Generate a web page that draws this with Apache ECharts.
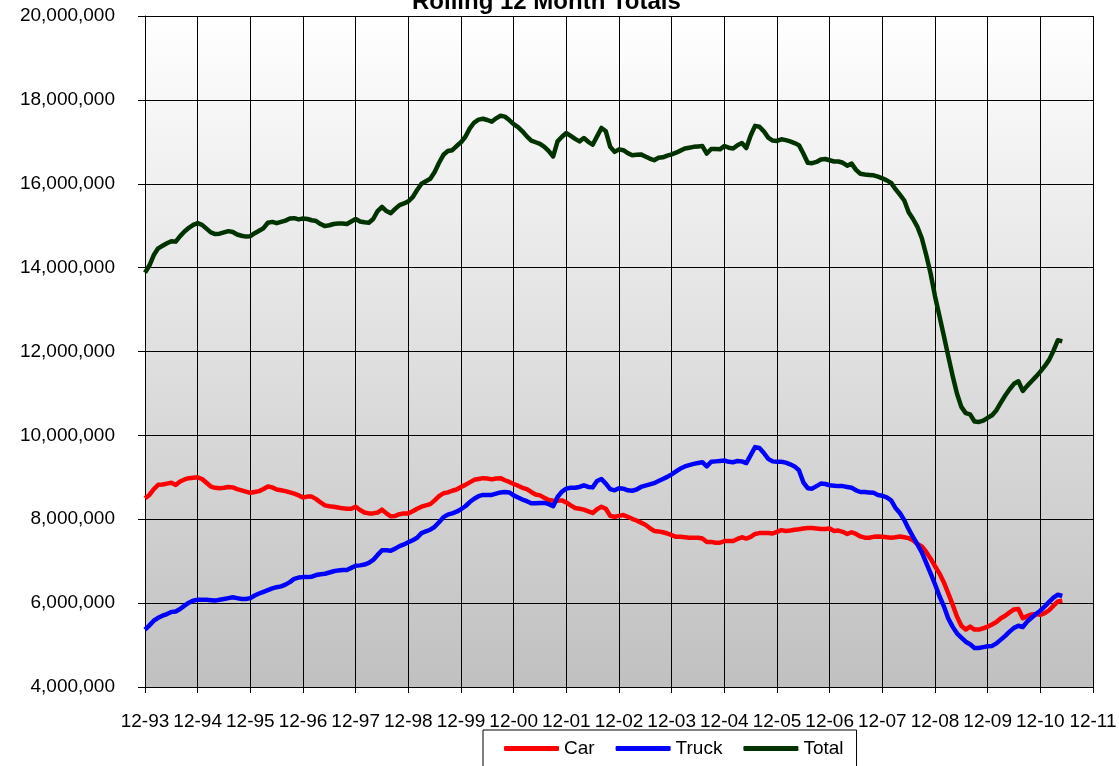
<!DOCTYPE html>
<html>
<head>
<meta charset="utf-8">
<script src="https://cdn.jsdelivr.net/npm/echarts/dist/echarts.min.js"></script>
<style>
    html, body { margin: 0; padding: 0; background: #ffffff; }
    #chart { width: 1119px; height: 766px; }
</style>
</head>
<body>
<div id="chart"></div>
<script>
    // year-end tick labels (one every 12 months)
    var yearLabels = ['12-93', '12-94', '12-95', '12-96', '12-97', '12-98', '12-99', '12-00', '12-01',
        '12-02', '12-03', '12-04', '12-05', '12-06', '12-07', '12-08', '12-09', '12-10', '12-11'];

    // rolling 12 month totals, millions of units, monthly from 12-93
    var car = [
        8.50, 8.58, 8.72, 8.82, 8.83, 8.85, 8.87, 8.82, 8.90, 8.95,
        8.98, 8.99, 9.00, 8.96, 8.87, 8.78, 8.75, 8.74, 8.75, 8.77,
        8.76, 8.72, 8.69, 8.66, 8.63, 8.65, 8.67, 8.72, 8.78, 8.76,
        8.71, 8.69, 8.67, 8.64, 8.61, 8.57, 8.52, 8.54, 8.54, 8.48,
        8.40, 8.33, 8.31, 8.30, 8.28, 8.26, 8.25, 8.25, 8.30, 8.22,
        8.16, 8.14, 8.14, 8.16, 8.23, 8.14, 8.07, 8.08, 8.12, 8.14,
        8.14, 8.19, 8.25, 8.30, 8.33, 8.36, 8.45, 8.55, 8.62, 8.64,
        8.68, 8.71, 8.77, 8.82, 8.88, 8.94, 8.96, 8.98, 8.97, 8.95,
        8.97, 8.98, 8.93, 8.89, 8.84, 8.80, 8.75, 8.72, 8.65, 8.59,
        8.57, 8.51, 8.46, 8.44, 8.44, 8.45, 8.40, 8.33, 8.27, 8.25,
        8.23, 8.19, 8.15, 8.24, 8.30, 8.25, 8.08, 8.06, 8.08, 8.10,
        8.06, 8.01, 7.97, 7.92, 7.87, 7.79, 7.72, 7.71, 7.69, 7.66,
        7.62, 7.58, 7.58, 7.57, 7.56, 7.56, 7.56, 7.54, 7.46, 7.46,
        7.44, 7.44, 7.48, 7.48, 7.48, 7.53, 7.57, 7.54, 7.58, 7.65,
        7.67, 7.67, 7.67, 7.66, 7.70, 7.74, 7.72, 7.73, 7.75, 7.76,
        7.78, 7.79, 7.79, 7.78, 7.77, 7.77, 7.78, 7.72, 7.73, 7.70,
        7.65, 7.69, 7.65, 7.59, 7.56, 7.56, 7.58, 7.59, 7.58, 7.57,
        7.56, 7.57, 7.59, 7.57, 7.55, 7.50, 7.41, 7.35, 7.22, 7.06,
        6.88, 6.71, 6.50, 6.24, 5.97, 5.68, 5.46, 5.37, 5.44, 5.37,
        5.37, 5.40, 5.44, 5.49, 5.55, 5.64, 5.70, 5.78, 5.85, 5.86,
        5.64, 5.69, 5.73, 5.74, 5.72, 5.76, 5.83, 5.94, 6.04, 6.06
    ];
    var truck = [
        5.37, 5.47, 5.58, 5.65, 5.70, 5.74, 5.79, 5.80, 5.86, 5.94,
        6.01, 6.06, 6.08, 6.08, 6.08, 6.07, 6.06, 6.08, 6.10, 6.12,
        6.14, 6.12, 6.10, 6.10, 6.12, 6.18, 6.23, 6.27, 6.31, 6.35,
        6.38, 6.40, 6.44, 6.50, 6.58, 6.61, 6.62, 6.62, 6.63, 6.67,
        6.69, 6.70, 6.73, 6.76, 6.78, 6.79, 6.79, 6.84, 6.89, 6.90,
        6.92, 6.96, 7.03, 7.15, 7.26, 7.26, 7.25, 7.30, 7.36, 7.40,
        7.45, 7.50, 7.56, 7.67, 7.71, 7.75, 7.82, 7.93, 8.05, 8.11,
        8.14, 8.18, 8.24, 8.31, 8.41, 8.49, 8.55, 8.58, 8.58, 8.58,
        8.61, 8.64, 8.65, 8.64, 8.57, 8.52, 8.47, 8.43, 8.38, 8.38,
        8.39, 8.39, 8.36, 8.31, 8.53, 8.66, 8.73, 8.75, 8.75, 8.77,
        8.81, 8.77, 8.76, 8.91, 8.96, 8.85, 8.72, 8.69, 8.74, 8.73,
        8.69, 8.68, 8.71, 8.77, 8.80, 8.83, 8.86, 8.91, 8.96, 9.01,
        9.07, 9.14, 9.21, 9.26, 9.29, 9.32, 9.34, 9.36, 9.26, 9.37,
        9.38, 9.39, 9.40, 9.37, 9.36, 9.39, 9.38, 9.34, 9.53, 9.72,
        9.70, 9.58, 9.44, 9.38, 9.37, 9.37, 9.35, 9.31, 9.26, 9.17,
        8.88, 8.74, 8.73, 8.79, 8.85, 8.84, 8.81, 8.80, 8.79, 8.79,
        8.77, 8.75, 8.69, 8.65, 8.65, 8.64, 8.63, 8.58, 8.56, 8.52,
        8.45, 8.27, 8.15, 7.98, 7.77, 7.58, 7.40, 7.21, 6.96, 6.71,
        6.45, 6.17, 5.93, 5.64, 5.44, 5.28, 5.18, 5.08, 5.02, 4.93,
        4.93, 4.95, 4.97, 4.98, 5.04, 5.13, 5.22, 5.32, 5.41, 5.46,
        5.43, 5.56, 5.65, 5.74, 5.82, 5.92, 6.03, 6.13, 6.20, 6.17
    ];
    var total = [
        13.88, 14.05, 14.30, 14.46, 14.52, 14.58, 14.63, 14.62, 14.75, 14.86,
        14.95, 15.02, 15.06, 15.02, 14.93, 14.84, 14.80, 14.81, 14.84, 14.87,
        14.85, 14.79, 14.76, 14.74, 14.75, 14.82, 14.88, 14.94, 15.07, 15.09,
        15.06, 15.09, 15.12, 15.17, 15.18, 15.15, 15.17, 15.16, 15.13, 15.11,
        15.04, 14.99, 15.01, 15.04, 15.05, 15.05, 15.04, 15.10, 15.16, 15.10,
        15.08, 15.07, 15.16, 15.35, 15.45, 15.35, 15.30, 15.40, 15.49, 15.53,
        15.58, 15.68, 15.85, 16.00, 16.06, 16.12, 16.28, 16.50, 16.69, 16.78,
        16.80, 16.90, 16.99, 17.12, 17.32, 17.46, 17.53, 17.55, 17.52, 17.48,
        17.56, 17.62, 17.60, 17.52, 17.42, 17.35, 17.25, 17.13, 17.03, 16.99,
        16.95, 16.88, 16.78, 16.65, 17.01, 17.12, 17.21, 17.14, 17.07, 17.01,
        17.09, 17.00, 16.93, 17.13, 17.33, 17.25, 16.88, 16.76, 16.82, 16.80,
        16.73, 16.68, 16.69, 16.70, 16.65, 16.60, 16.56, 16.62, 16.63, 16.67,
        16.70, 16.74, 16.79, 16.84, 16.86, 16.88, 16.89, 16.90, 16.72, 16.83,
        16.83, 16.82, 16.90, 16.86, 16.84, 16.92, 16.97, 16.85, 17.15, 17.38,
        17.36, 17.25, 17.10, 17.03, 17.02, 17.06, 17.04, 17.01, 16.97, 16.92,
        16.72, 16.50, 16.49, 16.52, 16.58, 16.59, 16.56, 16.53, 16.53, 16.50,
        16.43, 16.48, 16.33, 16.24, 16.22, 16.21, 16.20, 16.17, 16.13, 16.08,
        16.02, 15.87, 15.74, 15.60, 15.32, 15.16, 14.97, 14.70, 14.30, 13.86,
        13.32, 12.85, 12.38, 11.90, 11.43, 11.00, 10.68, 10.53, 10.50, 10.33,
        10.32, 10.35, 10.42, 10.48, 10.60, 10.78, 10.95, 11.10, 11.23, 11.29,
        11.06, 11.18, 11.29, 11.40, 11.52, 11.65, 11.80, 12.02, 12.27, 12.24
    ];

    // monthly categories: 12-93, 1-94, 2-94 ... 12-11
    var months = [];
    for (var i = 0; i < yearLabels.length - 1; i++) {
        months.push(yearLabels[i]);
        var yy = yearLabels[i + 1].substr(3);
        for (var k = 1; k <= 11; k++) {
            months.push(k + '-' + yy);
        }
    }
    months.push(yearLabels[yearLabels.length - 1]);

    function everyYear(idx) {
        return idx % 12 === 0;
    }

    var font = 'Liberation Sans, Arial, sans-serif';

    var chart = echarts.init(document.getElementById('chart'));
    var option = {
        animation: false,
        title: {
            text: 'Rolling 12 Month Totals',
            left: 412,
            top: -10,
            padding: 0,
            textStyle: {
                fontFamily: font,
                fontSize: 24,
                fontWeight: 'bold',
                color: '#000000'
            }
        },
        legend: {
            data: ['Car', 'Truck', 'Total'],
            left: 483,
            top: 730,
            icon: 'roundRect',
            itemWidth: 55,
            itemHeight: 5,
            itemGap: 21,
            padding: [9, 13, 14, 21],
            backgroundColor: '#ffffff',
            borderColor: '#000000',
            borderWidth: 1,
            borderRadius: 0,
            textStyle: {
                fontFamily: font,
                fontSize: 19,
                color: '#000000'
            }
        },
        grid: {
            left: 145,
            right: 26,
            top: 16,
            bottom: 79,
            outerBoundsMode: 'none',
            show: true,
            borderWidth: 0,
            backgroundColor: new echarts.graphic.LinearGradient(0, 0, 0, 1, [
                { offset: 0, color: '#ffffff' },
                { offset: 1, color: '#c0c0c0' }
            ])
        },
        xAxis: {
            type: 'category',
            data: months,
            boundaryGap: false,
            axisLine: { lineStyle: { color: '#000000', width: 1 } },
            axisTick: { interval: everyYear, length: 6, lineStyle: { color: '#000000' } },
            axisLabel: {
                interval: everyYear,
                showMinLabel: true,
                showMaxLabel: true,
                margin: 25,
                fontFamily: font,
                fontSize: 19,
                color: '#000000'
            },
            splitLine: {
                show: true,
                interval: everyYear,
                lineStyle: { color: '#000000', width: 1 }
            }
        },
        yAxis: {
            type: 'value',
            min: 4,
            max: 20,
            interval: 2,
            axisLine: { show: true, lineStyle: { color: '#000000', width: 1 } },
            axisTick: { show: true, length: 7, lineStyle: { color: '#000000' } },
            axisLabel: {
                margin: 30,
                fontFamily: font,
                fontSize: 19,
                color: '#000000',
                formatter: function (v) {
                    return String(Math.round(v * 1000000)).replace(/\B(?=(\d{3})+(?!\d))/g, ',');
                }
            },
            splitLine: { lineStyle: { color: '#000000', width: 1 } }
        },
        series: [
            {
                name: 'Car',
                type: 'line',
                data: car,
                showSymbol: false,
                symbol: 'none',
                lineStyle: { color: '#ff0000', width: 4.5, join: 'round' },
                itemStyle: { color: '#ff0000' }
            },
            {
                name: 'Truck',
                type: 'line',
                data: truck,
                showSymbol: false,
                symbol: 'none',
                lineStyle: { color: '#0000ff', width: 4.5, join: 'round' },
                itemStyle: { color: '#0000ff' }
            },
            {
                name: 'Total',
                type: 'line',
                data: total,
                showSymbol: false,
                symbol: 'none',
                lineStyle: { color: '#003300', width: 4.5, join: 'round' },
                itemStyle: { color: '#003300' }
            }
        ]
    };
    chart.setOption(option);
</script>
</body>
</html>
